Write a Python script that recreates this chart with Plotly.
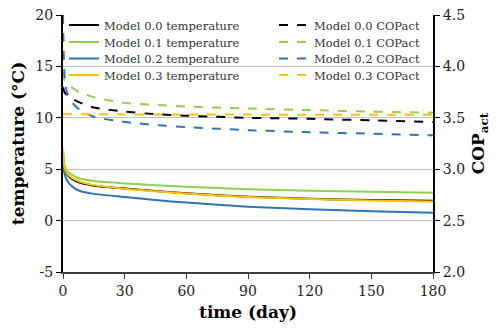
import plotly.graph_objects as go

# ---- data ----
time_days = [0, 0.5, 1, 2, 4, 8, 15, 30, 45, 60, 90, 120, 150, 180]

temp_m00 = [6.5, 5.3, 4.9, 4.5, 4.1, 3.7, 3.4, 3.12, 2.87, 2.65, 2.33, 2.13, 2.0, 1.92]
temp_m01 = [7.0, 5.6, 5.2, 4.8, 4.5, 4.1, 3.85, 3.62, 3.45, 3.3, 3.05, 2.9, 2.8, 2.72]
temp_m02 = [6.0, 4.8, 4.4, 3.9, 3.4, 2.9, 2.6, 2.3, 2.0, 1.75, 1.35, 1.1, 0.9, 0.77]
temp_m03 = [7.0, 5.4, 5.0, 4.6, 4.2, 3.8, 3.45, 3.1, 2.85, 2.63, 2.3, 2.1, 1.95, 1.85]

cop_m00 = [3.80, 3.76, 3.74, 3.72, 3.69, 3.65, 3.60, 3.56, 3.535, 3.52, 3.50, 3.49, 3.475, 3.46]
cop_m01 = [3.95, 3.88, 3.86, 3.84, 3.80, 3.75, 3.70, 3.645, 3.625, 3.61, 3.59, 3.575, 3.56, 3.55]
cop_m02 = [4.5, 4.0, 3.85, 3.74, 3.66, 3.58, 3.51, 3.46, 3.43, 3.41, 3.38, 3.36, 3.345, 3.33]
cop_m03 = [3.535, 3.535, 3.535, 3.535, 3.535, 3.535, 3.535, 3.533, 3.532, 3.532, 3.531, 3.53, 3.53, 3.53]

x_ticks = [0, 30, 60, 90, 120, 150, 180]
y_ticks = [-5, 0, 5, 10, 15, 20]
y_ticklabels = ["-5", "0", "5", "10", "15", "20"]
y2_ticks = [2.0, 2.5, 3.0, 3.5, 4.0, 4.5]
y2_ticklabels = ["2.0", "2.5", "3.0", "3.5", "4.0", "4.5"]

BLACK = "#000000"
GREEN = "#92D050"
BLUE = "#2E75B6"
YELLOW = "#FFC000"

FONT = "DejaVu Serif"

W, H = 499, 330
L, R, T, B = 63, 66, 15, 58
pw = W - L - R
ph = H - T - B


def px_x(p):
    return (p - L) / pw


def px_y(p):
    return 1 - (p - T) / ph


temps = [("Model 0.0 temperature", temp_m00, BLACK),
         ("Model 0.1 temperature", temp_m01, GREEN),
         ("Model 0.2 temperature", temp_m02, BLUE),
         ("Model 0.3 temperature", temp_m03, YELLOW)]
cops = [("Model 0.0 COPact", cop_m00, BLACK),
        ("Model 0.1 COPact", cop_m01, GREEN),
        ("Model 0.2 COPact", cop_m02, BLUE),
        ("Model 0.3 COPact", cop_m03, YELLOW)]

row_px = [25, 42, 58.5, 75]

fig = go.Figure()
legend_cfg = {}
for i, (name, vals, col) in enumerate(cops):
    key = "legend%d" % (i + 5)
    fig.add_trace(go.Scatter(x=time_days, y=vals, name=name, mode="lines",
                             line=dict(color=col, width=2, dash="dash", shape="spline", smoothing=0.6),
                             yaxis="y2", legend=key))
    legend_cfg[key] = dict(x=px_x(274), y=px_y(row_px[i]), xanchor="left", yanchor="middle",
                           bgcolor="rgba(0,0,0,0)", font=dict(family=FONT, size=11.5, color="#333333"),
                           itemwidth=30)
for i, (name, vals, col) in enumerate(temps):
    key = "legend" if i == 0 else "legend%d" % (i + 1)
    fig.add_trace(go.Scatter(x=time_days, y=vals, name=name, mode="lines",
                             line=dict(color=col, width=2, shape="spline", smoothing=0.6),
                             legend=key))
    legend_cfg[key] = dict(x=px_x(64), y=px_y(row_px[i]), xanchor="left", yanchor="middle",
                           bgcolor="rgba(0,0,0,0)", font=dict(family=FONT, size=11.5, color="#333333"),
                           itemwidth=30)

# white patch behind the left legend (hides gridlines like the reference)
fig.add_shape(type="rect", xref="paper", yref="paper",
              x0=px_x(97), x1=px_x(250), y0=px_y(85), y1=px_y(10),
              fillcolor="white", line=dict(width=0), layer="between")
fig.add_shape(type="rect", xref="paper", yref="paper",
              x0=px_x(64), x1=px_x(97), y0=px_y(20), y1=px_y(10),
              fillcolor="white", line=dict(width=0), layer="between")

fig.update_layout(
    width=W, height=H,
    margin=dict(l=L, r=R, t=T, b=B, autoexpand=False),
    paper_bgcolor="white", plot_bgcolor="white",
    font=dict(family=FONT, size=14, color="#222222"),
    showlegend=True,
    xaxis=dict(range=[0, 180], tickvals=x_ticks, showgrid=False, zeroline=False, automargin=False,
               showline=True, linecolor="#404040", linewidth=2,
               ticks="outside", ticklen=5, tickcolor="#404040",
               tickfont=dict(family=FONT, size=14, color="#222222"),
               title=dict(text="<b>time (day)</b>", font=dict(family=FONT, size=17, color="#000000"),
                          standoff=8)),
    yaxis=dict(range=[-5, 20], tickvals=y_ticks, ticktext=y_ticklabels, showgrid=True,
               gridcolor="#C0C0C0", gridwidth=1, automargin=False,
               zeroline=False, showline=True, linecolor="#000000", linewidth=2,
               ticks="outside", ticklen=5, tickcolor="#000000",
               tickfont=dict(family=FONT, size=14, color="#222222"),
               title=dict(text="<b>temperature (°C)</b>", font=dict(family=FONT, size=17, color="#000000"),
                          standoff=6)),
    yaxis2=dict(range=[2.0, 4.5], tickvals=y2_ticks, ticktext=y2_ticklabels, overlaying="y", side="right",
                showgrid=False, zeroline=False, showline=True, linecolor="#000000", linewidth=2,
                automargin=False,
                ticks="outside", ticklen=5, tickcolor="#000000",
                tickfont=dict(family=FONT, size=14, color="#222222"),
                title=dict(text="<b>COP<sub>act</sub></b>", font=dict(family=FONT, size=17, color="#000000"),
                           standoff=8)),
    **legend_cfg,
)

fig.write_html("out.html", config={"displayModeBar": False},
               post_script="document.body.style.margin='0px';")
